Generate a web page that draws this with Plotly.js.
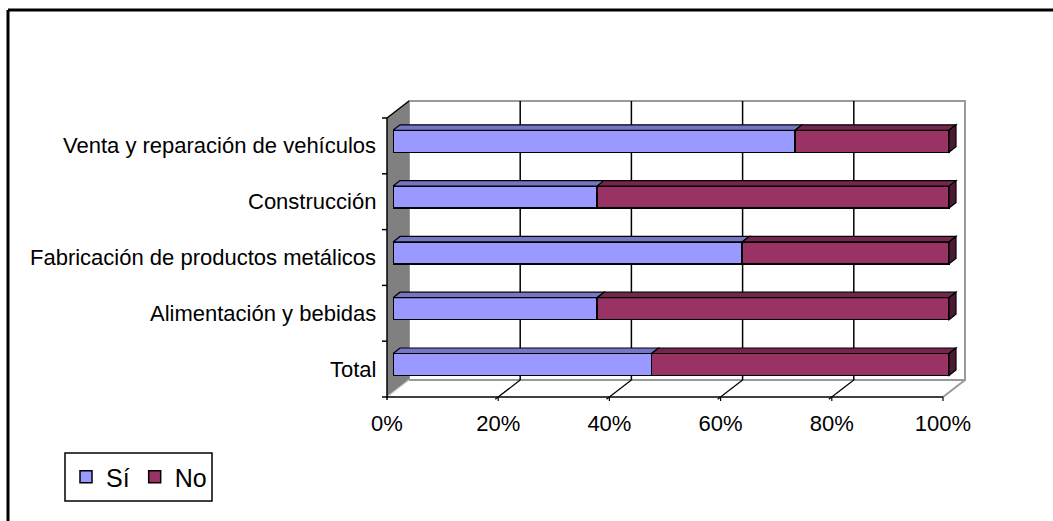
<!DOCTYPE html>
<html>
<head>
<meta charset="utf-8">
<script src="https://cdn.plot.ly/plotly-3.0.1.min.js"></script>
<style>
  html, body { margin: 0; padding: 0; background: #ffffff; }
  #chart { width: 1053px; height: 521px; }
</style>
</head>
<body>
<div id="chart"></div>
<script>
// ---- data ----
const categories = ['Venta y reparación de vehículos', 'Construcción', 'Fabricación de productos metálicos', 'Alimentación y bebidas', 'Total'];
const siValues = [72.3, 36.7, 62.8, 36.7, 46.5];
const noValues = [27.7, 63.3, 37.2, 63.3, 53.5];
const seriesNames = ['Sí', 'No'];
const xTickValues = [0, 20, 40, 60, 80, 100];
const xTickLabels = ['0%', '20%', '40%', '60%', '80%', '100%'];

// ---- geometry / style ----
const W = 1053, H = 521;
const FONT = 'Liberation Sans, Arial, sans-serif';
const FS = 22;
const LEG_FS = 25;
const COL_SI = '#9999FF', COL_NO = '#993366';
const COL_SI_TOP = '#7676C6', COL_NO_TOP = '#74264D', COL_NO_SIDE = '#4D1A33';

const FRONT_X0 = 387, FRONT_BOTTOM = 397, FRONT_TOP = 118;
const PW = 556;                 // pixels for 100 %
const DEPTH_DX = 22, DEPTH_DY = 17;   // front -> back wall
const BAR_OFF_DX = 6, BAR_OFF_DY = 4.6; // front -> bar front face
const BAR_D_DX = 7, BAR_D_DY = 5.5;     // bar depth
const BAR_W = 0.394;
const XMAX = 105;
const LABEL_RIGHT = 378;

const catH = (FRONT_BOTTOM - FRONT_TOP) / categories.length;
const planeX0 = FRONT_X0 + BAR_OFF_DX;
const planeYB = FRONT_BOTTOM - BAR_OFF_DY;
const planeYT = FRONT_TOP - BAR_OFF_DY;
const pxPerUnit = PW / 100;

const px = x => x / W;
const py = y => 1 - y / H;

const traces = [
  {
    type: 'bar', orientation: 'h', name: seriesNames[0],
    y: categories, x: siValues, width: BAR_W,
    marker: { color: COL_SI, line: { color: '#000000', width: 1.5 } },
    hoverinfo: 'x+y'
  },
  {
    type: 'bar', orientation: 'h', name: seriesNames[1],
    y: categories, x: noValues, width: BAR_W,
    marker: { color: COL_NO, line: { color: '#000000', width: 1.5 } },
    hoverinfo: 'x+y'
  }
];

const shapes = [];
const backX0 = FRONT_X0 + DEPTH_DX, backBottom = FRONT_BOTTOM - DEPTH_DY, backTop = FRONT_TOP - DEPTH_DY;
const backX1 = backX0 + PW, frontX1 = FRONT_X0 + PW;

// outer frame (top and left borders)
shapes.push({ type: 'line', xref: 'paper', yref: 'paper', x0: px(8), x1: px(W + 5), y0: py(10), y1: py(10), line: { color: '#000', width: 3 }, layer: 'below' });
shapes.push({ type: 'line', xref: 'paper', yref: 'paper', x0: px(8), x1: px(8), y0: py(10), y1: py(H + 5), line: { color: '#000', width: 3 }, layer: 'below' });

// back wall
shapes.push({ type: 'rect', xref: 'paper', yref: 'paper', x0: px(backX0), x1: px(backX1), y0: py(backBottom), y1: py(backTop),
  fillcolor: '#ffffff', line: { color: '#999999', width: 2 }, layer: 'below' });
// floor
shapes.push({ type: 'path', xref: 'paper', yref: 'paper', layer: 'below', fillcolor: '#ffffff', line: { width: 0 },
  path: `M${px(FRONT_X0)},${py(FRONT_BOTTOM)} L${px(backX0)},${py(backBottom)} L${px(backX1)},${py(backBottom)} L${px(frontX1)},${py(FRONT_BOTTOM)} Z` });
shapes.push({ type: 'line', xref: 'paper', yref: 'paper', layer: 'below', x0: px(frontX1), y0: py(FRONT_BOTTOM), x1: px(backX1), y1: py(backBottom), line: { color: '#999999', width: 2 } });
shapes.push({ type: 'line', xref: 'paper', yref: 'paper', layer: 'below', x0: px(backX0), y0: py(backBottom), x1: px(backX1), y1: py(backBottom), line: { color: '#999999', width: 2 } });

// gridlines on back wall + floor diagonals, anchored on the x scale
xTickValues.forEach((v, k) => {
  if (k > 0 && k < xTickValues.length - 1) {
    shapes.push({ type: 'line', xref: 'x', yref: 'paper', layer: 'below', xsizemode: 'pixel', xanchor: v,
      x0: DEPTH_DX - BAR_OFF_DX, x1: DEPTH_DX - BAR_OFF_DX, y0: py(backBottom), y1: py(backTop), line: { color: '#000', width: 1.5 } });
    shapes.push({ type: 'line', xref: 'x', yref: 'paper', layer: 'below', xsizemode: 'pixel', xanchor: v,
      x0: -BAR_OFF_DX - 3, x1: DEPTH_DX - BAR_OFF_DX, y0: py(FRONT_BOTTOM + 2.3), y1: py(backBottom), line: { color: '#000', width: 1.2 } });
  }
  // small ticks below front edge
  shapes.push({ type: 'line', xref: 'x', yref: 'paper', layer: 'below', xsizemode: 'pixel', xanchor: v,
    x0: -BAR_OFF_DX, x1: -BAR_OFF_DX, y0: py(FRONT_BOTTOM), y1: py(FRONT_BOTTOM + 4), line: { color: '#000', width: 1.2 } });
});

// left wall
shapes.push({ type: 'path', xref: 'paper', yref: 'paper', layer: 'below', fillcolor: '#808080', line: { width: 0 },
  path: `M${px(FRONT_X0)},${py(FRONT_TOP)} L${px(backX0)},${py(backTop)} L${px(backX0)},${py(backBottom)} L${px(FRONT_X0)},${py(FRONT_BOTTOM)} Z` });
shapes.push({ type: 'line', xref: 'paper', yref: 'paper', layer: 'below', x0: px(FRONT_X0), y0: py(FRONT_BOTTOM), x1: px(backX0), y1: py(backBottom), line: { color: '#d0d0d0', width: 1.2 } });
shapes.push({ type: 'line', xref: 'paper', yref: 'paper', layer: 'below', x0: px(FRONT_X0), y0: py(FRONT_TOP), x1: px(backX0), y1: py(backTop), line: { color: '#000', width: 1.5 } });
// left axis line and front floor edge
shapes.push({ type: 'line', xref: 'paper', yref: 'paper', layer: 'below', x0: px(FRONT_X0), y0: py(FRONT_TOP), x1: px(FRONT_X0), y1: py(FRONT_BOTTOM + 3), line: { color: '#000', width: 1.5 } });
shapes.push({ type: 'line', xref: 'paper', yref: 'paper', layer: 'below', x0: px(FRONT_X0), y0: py(FRONT_BOTTOM), x1: px(frontX1), y1: py(FRONT_BOTTOM), line: { color: '#000', width: 1.5 } });
// left axis ticks at category boundaries
for (let k = 0; k <= categories.length; k++) {
  const yy = FRONT_TOP + k * catH;
  shapes.push({ type: 'line', xref: 'paper', yref: 'paper', layer: 'below', x0: px(FRONT_X0 - 5), y0: py(yy), x1: px(FRONT_X0), y1: py(yy), line: { color: '#000', width: 1.5 } });
}

// 3D faces of bars (top and right side), computed from the data values
const dxD = BAR_D_DX / pxPerUnit;
const dyC = BAR_D_DY / catH;
const hw = BAR_W / 2;
categories.forEach((c, i) => {
  const segs = [[0, siValues[i], COL_SI_TOP], [siValues[i], siValues[i] + noValues[i], COL_NO_TOP]];
  const yt = i - hw, yb = i + hw;
  segs.forEach(([a, b, col]) => {
    shapes.push({ type: 'path', xref: 'x', yref: 'y', layer: 'above', fillcolor: col, line: { color: '#000', width: 1.2 },
      path: `M${a},${yt} L${b},${yt} L${b + dxD},${yt - dyC} L${a + dxD},${yt - dyC} Z` });
  });
  const e = siValues[i] + noValues[i];
  shapes.push({ type: 'path', xref: 'x', yref: 'y', layer: 'above', fillcolor: COL_NO_SIDE, line: { color: '#000', width: 1.2 },
    path: `M${e},${yt} L${e + dxD},${yt - dyC} L${e + dxD},${yb - dyC} L${e},${yb} Z` });
});

// legend box
shapes.push({ type: 'rect', xref: 'paper', yref: 'paper', layer: 'below', x0: px(65), x1: px(212), y0: py(501), y1: py(453),
  fillcolor: '#ffffff', line: { color: '#000', width: 1.5 } });

// category labels, placed on the front plane (below the bar plane by the bar offset)
const annotations = categories.map(c => ({
  xref: 'paper', yref: 'y', x: px(LABEL_RIGHT), y: c, xanchor: 'right', yanchor: 'middle',
  yshift: -BAR_OFF_DY, showarrow: false, text: c,
  font: { family: FONT, size: FS, color: '#000' }
}));

const layout = {
  width: W, height: H,
  margin: { l: 0, r: 0, t: 0, b: 0 },
  paper_bgcolor: '#ffffff', plot_bgcolor: 'rgba(0,0,0,0)',
  barmode: 'stack',
  bargap: 0,
  font: { family: FONT, size: FS, color: '#000000' },
  showlegend: true,
  legend: {
    orientation: 'h', x: px(66), xanchor: 'left', y: py(477), yanchor: 'middle',
    bgcolor: 'rgba(0,0,0,0)', borderwidth: 0, traceorder: 'normal',
    itemwidth: 30,
    font: { family: FONT, size: LEG_FS, color: '#000' }
  },
  xaxis: {
    domain: [px(planeX0), px(planeX0 + XMAX * pxPerUnit)],
    range: [0, XMAX], fixedrange: true,
    tickvals: xTickValues, ticktext: xTickLabels,
    showgrid: false, zeroline: false, showline: false, ticks: '',
    ticklabelshift: -BAR_OFF_DX, ticklabelstandoff: 16,
    tickfont: { family: FONT, size: FS, color: '#000' }
  },
  yaxis: {
    domain: [py(planeYB), py(planeYT)],
    type: 'category', categoryorder: 'array', categoryarray: categories,
    range: [categories.length - 0.5, -0.5], fixedrange: true,
    showgrid: false, zeroline: false, showline: false, ticks: '',
    showticklabels: false
  },
  annotations: annotations,
  shapes: shapes
};

Plotly.newPlot('chart', traces, layout, { displayModeBar: false, staticPlot: true });
</script>
</body>
</html>
